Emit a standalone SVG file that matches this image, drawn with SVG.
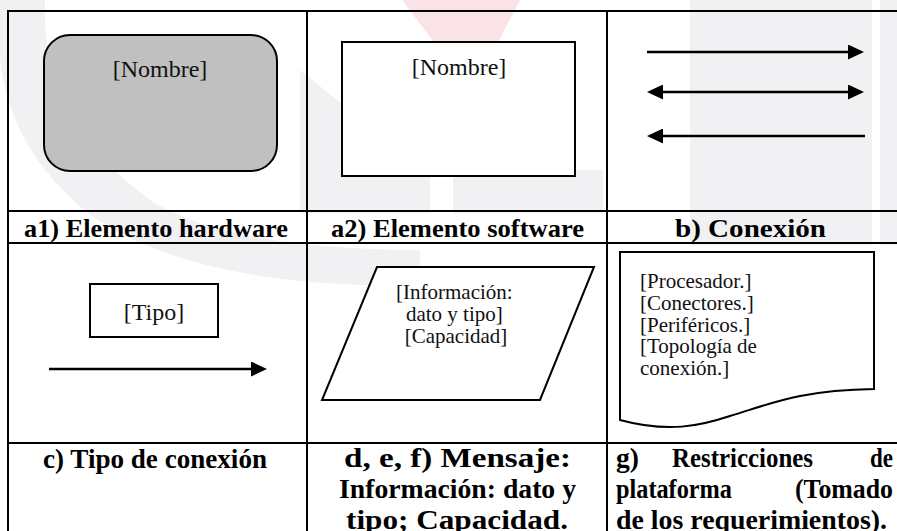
<svg xmlns="http://www.w3.org/2000/svg" width="897" height="531" viewBox="0 0 897 531">
  <defs>
    <style>
      .grid { stroke: #000; stroke-width: 2; fill: none; }
      .shape { stroke: #000; stroke-width: 2; }
      .body { font-family: "Liberation Serif", "Times New Roman", serif; font-size: 24px; fill: #111; }
      .small { font-family: "Liberation Serif", "Times New Roman", serif; font-size: 21px; fill: #111; }
      .label { font-family: "Liberation Serif", "Times New Roman", serif; font-size: 26px; font-weight: bold; fill: #000; }
      .label2 { font-family: "Liberation Serif", "Times New Roman", serif; font-size: 28px; font-weight: bold; fill: #000; }
      .wire { stroke: #000; stroke-width: 2.6; fill: none; }
      .mark { fill: #f1f1f4; }
      .mark-red { fill: #fae3e6; }
    </style>
    <marker id="head" viewBox="0 0 16 15" markerWidth="16" markerHeight="15" refX="6" refY="7.5" markerUnits="userSpaceOnUse" orient="auto-start-reverse">
      <path d="M0,0 L16,7.5 L0,15 Z" fill="#000"/>
    </marker>
  </defs>

  <rect width="897" height="531" fill="#fff"/>

  <!-- faint background emblem -->
  <g id="emblem">
    <path class="mark" d="M0,0 H45 Q40,120 150,200 Q230,250 420,250 L420,285 Q200,290 90,215 Q10,150 0,60 Z"/>
    <rect class="mark" x="690" y="0" width="182" height="245"/>
    <rect class="mark" x="880" y="0" width="17" height="245"/>
    <path class="mark" d="M300,70 L430,175 L430,213 L300,213 Z"/>
    <rect class="mark" x="453" y="170" width="150" height="43"/>
    <polygon class="mark-red" points="402,0 520,0 472,92"/>
  </g>

  <!-- table rules -->
  <g id="table">
    <line class="grid" x1="8" y1="11" x2="897" y2="11"/>
    <line class="grid" x1="8" y1="211" x2="897" y2="211"/>
    <line class="grid" x1="8" y1="243" x2="897" y2="243"/>
    <line class="grid" x1="8" y1="443" x2="897" y2="443"/>
    <line class="grid" x1="8" y1="10" x2="8" y2="531"/>
    <line class="grid" x1="307" y1="10" x2="307" y2="531"/>
    <line class="grid" x1="607" y1="10" x2="607" y2="531"/>
  </g>

  <!-- a1) hardware element -->
  <g id="hardware">
    <rect class="shape" x="44" y="35" width="233" height="136" rx="26" ry="26" fill="#c0c0c0"/>
    <text class="body" x="160" y="77" text-anchor="middle">[Nombre]</text>
  </g>

  <!-- a2) software element -->
  <g id="software">
    <rect class="shape" x="342" y="42" width="233" height="134" fill="#fff"/>
    <text class="body" x="459" y="75" text-anchor="middle">[Nombre]</text>
  </g>

  <!-- c) connection type box -->
  <g id="tipo">
    <rect class="shape" x="90" y="284" width="128" height="53" fill="#fff"/>
    <text class="body" x="154" y="320" text-anchor="middle">[Tipo]</text>
  </g>

  <!-- d, e, f) message -->
  <g id="mensaje">
    <polygon class="shape" points="377,267 594,267 540,400 322,400" fill="#fff"/>
    <text class="small" text-anchor="middle">
      <tspan x="457" y="299">[Información:</tspan>
      <tspan x="457" y="321">dato y tipo]</tspan>
      <tspan x="456" y="343">[Capacidad]</tspan>
    </text>
  </g>

  <!-- g) platform constraints document -->
  <g id="restricciones">
    <path class="shape" fill="#fff" d="M620,252 H874 V389 C 800,390 770,404 730,416 C 700,426 668,433 620,420 Z"/>
    <text class="small">
      <tspan x="640" y="288">[Procesador.]</tspan>
      <tspan x="640" y="310">[Conectores.]</tspan>
      <tspan x="640" y="332">[Periféricos.]</tspan>
      <tspan x="640" y="353">[Topología de</tspan>
      <tspan x="640" y="375">conexión.]</tspan>
    </text>
  </g>

  <!-- connectors -->
  <g id="connectors">
    <line class="wire" x1="647" y1="52" x2="854" y2="52" marker-end="url(#head)"/>
    <line class="wire" x1="657" y1="92" x2="854" y2="92" marker-start="url(#head)" marker-end="url(#head)"/>
    <line class="wire" x1="657" y1="136" x2="865" y2="136" marker-start="url(#head)"/>
    <line class="wire" x1="49" y1="369" x2="257" y2="369" marker-end="url(#head)"/>
  </g>

  <!-- captions -->
  <g id="captions">
    <text class="label" x="24" y="237" textLength="264" lengthAdjust="spacingAndGlyphs">a1) Elemento hardware</text>
    <text class="label" x="331" y="237" textLength="253" lengthAdjust="spacingAndGlyphs">a2) Elemento software</text>
    <text class="label" x="675" y="237" textLength="151" lengthAdjust="spacingAndGlyphs">b) Conexión</text>
    <text class="label2" x="43" y="468" textLength="224" lengthAdjust="spacingAndGlyphs">c) Tipo de conexión</text>
    <text class="label2" x="344" y="467" textLength="227" lengthAdjust="spacingAndGlyphs">d, e, f) Mensaje:</text>
    <text class="label2" x="339" y="498" textLength="237" lengthAdjust="spacingAndGlyphs">Información: dato y</text>
    <text class="label2" x="346" y="529" textLength="222" lengthAdjust="spacingAndGlyphs">tipo; Capacidad.</text>
    <text class="label2" x="616" y="467" textLength="23" lengthAdjust="spacingAndGlyphs">g)</text>
    <text class="label2" x="672" y="467" textLength="141" lengthAdjust="spacingAndGlyphs">Restricciones</text>
    <text class="label2" x="870" y="467" textLength="23" lengthAdjust="spacingAndGlyphs">de</text>
    <text class="label2" x="616" y="498" textLength="116" lengthAdjust="spacingAndGlyphs">plataforma</text>
    <text class="label2" x="795" y="498" textLength="98" lengthAdjust="spacingAndGlyphs">(Tomado</text>
    <text class="label2" x="616" y="529" textLength="271" lengthAdjust="spacingAndGlyphs">de los requerimientos).</text>
  </g>
</svg>
